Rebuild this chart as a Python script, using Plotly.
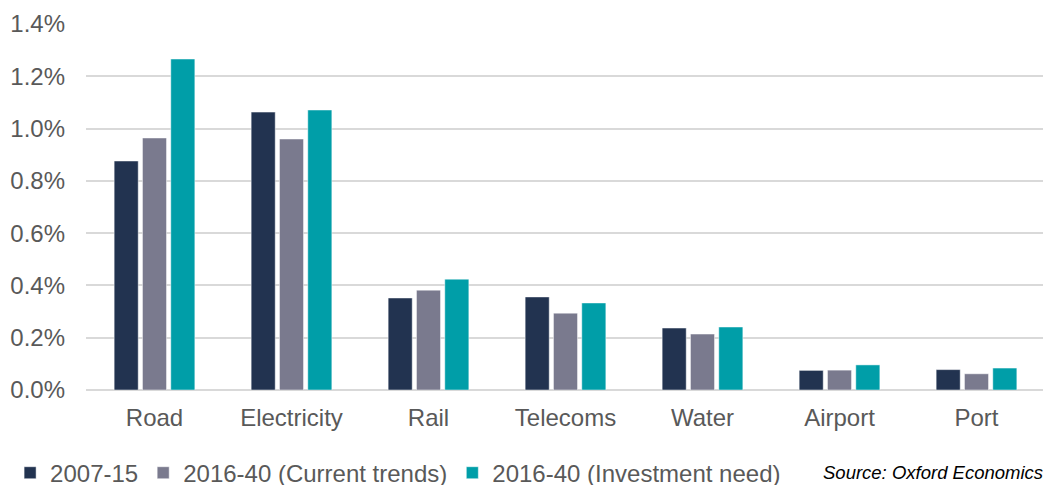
import plotly.graph_objects as go

# sectors and shares of GDP (%)
categories = ['Road', 'Electricity', 'Rail', 'Telecoms', 'Water', 'Airport', 'Port']
hist_2007_15 = [0.876, 1.063, 0.352, 0.356, 0.237, 0.075, 0.078]
current_trends = [0.964, 0.960, 0.382, 0.294, 0.214, 0.076, 0.062]
investment_need = [1.266, 1.071, 0.424, 0.333, 0.241, 0.096, 0.084]

series_names = ['2007-15', '2016-40 (Current trends)', '2016-40 (Investment need)']
colors = ['#223350', '#7a7a8e', '#009ea8']
y_ticks = [0, 0.2, 0.4, 0.6, 0.8, 1.0, 1.2, 1.4]

fig = go.Figure()
for name, vals, col in zip(series_names, [hist_2007_15, current_trends, investment_need], colors):
    fig.add_trace(go.Bar(x=categories, y=vals, name=name,
                         marker=dict(color=col, line=dict(color='rgba(255,255,255,0.6)', width=0.8))))

# page body has an 8px margin, so the margins below are shifted by that
fig.update_layout(
    width=1051, height=485,
    barmode='group',
    bargap=0.38,
    bargroupgap=0.15,
    plot_bgcolor='white',
    paper_bgcolor='white',
    font=dict(family='Liberation Sans, Arial', size=24, color='#595959'),
    margin=dict(l=78, r=14, t=16, b=103, autoexpand=False),
    xaxis=dict(showgrid=False, showline=False, ticks='',
               tickfont=dict(size=24, color='#595959'), ticklabelstandoff=11),
    yaxis=dict(range=[0, 1.4], tickvals=y_ticks,
               ticktext=[f'{v:.1f}%' for v in y_ticks],
               showgrid=True, gridcolor='#d9d9d9', gridwidth=1.5,
               zeroline=True, zerolinecolor='#d9d9d9', zerolinewidth=2,
               tickfont=dict(size=24, color='#595959'), ticklabelstandoff=20),
    legend=dict(orientation='h', xref='container', yref='container',
                x=0.002, y=0.041, xanchor='left', yanchor='middle',
                font=dict(size=24, color='#595959'),
                itemwidth=30, traceorder='normal'),
)

fig.add_annotation(
    text='<i>Source: Oxford Economics</i>',
    showarrow=False,
    xref='paper', x=1.0, xanchor='right',
    yref='paper', y=-0.226, yanchor='middle',
    font=dict(size=18.5, color='#000000'),
)

fig.write_html("out.html")
